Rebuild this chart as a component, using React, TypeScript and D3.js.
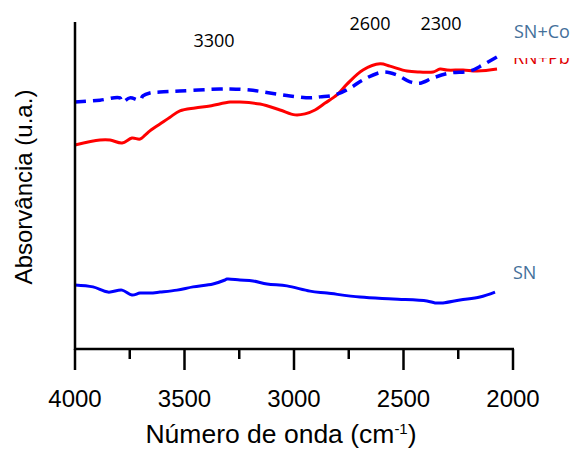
import React from 'react';
import * as d3 from 'd3';

// wavenumber (cm-1) and absorbance (u.a.)
const snCoWave = [4000, 3886, 3795, 3785, 3749, 3703, 3690, 3658, 3612, 3521, 3338, 3292, 3201, 3110, 3018, 2927, 2881, 2813, 2744, 2685, 2594, 2530, 2470, 2425, 2365, 2288, 2196, 2137, 2073];
const snCoAbs = [75.5, 76.1, 76.8, 75.5, 76.8, 76.1, 77.4, 78.3, 78.6, 78.9, 79.5, 79.5, 79.2, 78.3, 77.4, 76.8, 77.1, 77.7, 79.8, 82.3, 84.7, 83.8, 81.7, 81.3, 82.9, 84.4, 85.0, 86.9, 89.3];

const rnPbWave = [4000, 3886, 3840, 3785, 3740, 3703, 3680, 3658, 3612, 3566, 3521, 3452, 3384, 3292, 3247, 3155, 3064, 2995, 2950, 2904, 2858, 2804, 2758, 2685, 2607, 2562, 2484, 2425, 2365, 2333, 2301, 2228, 2164, 2073];
const rnPbAbs = [62.4, 63.9, 63.9, 63.0, 64.5, 64.2, 65.4, 66.7, 68.8, 70.9, 72.8, 73.7, 74.3, 75.5, 75.5, 74.9, 73.1, 71.6, 71.9, 73.1, 75.2, 77.7, 81.0, 85.3, 87.2, 86.5, 85.0, 84.7, 84.7, 85.6, 85.3, 85.3, 85.0, 85.6];

const snWave = [4000, 3918, 3849, 3785, 3740, 3703, 3658, 3612, 3534, 3461, 3370, 3315, 3306, 3247, 3187, 3123, 3032, 2927, 2849, 2699, 2548, 2393, 2356, 2320, 2242, 2151, 2082];
const snAbs = [19.6, 19.0, 17.4, 18.0, 16.5, 17.1, 17.1, 17.4, 18.0, 19.0, 19.9, 21.1, 21.4, 21.1, 20.8, 19.9, 19.3, 17.7, 17.1, 15.9, 15.3, 14.7, 14.1, 14.1, 15.0, 15.9, 17.4];

const majorTicks = [4000, 3500, 3000, 2500, 2000];
const minorTicks = [3750, 3250, 2750, 2250];

const peakLabels = ['3300', '2600', '2300'];
const seriesNames = ['SN+Co', 'RN+Pb', 'SN'];

const W = 573;
const H = 449;

export default function App() {
  const x = d3.scaleLinear().domain([4000, 2000]).range([75, 513]);
  const y = d3.scaleLinear().domain([0, 100]).range([349, 22]);

  const line = (ws: number[], as: number[]) =>
    d3.line<number>()
      .x((d) => x(d))
      .y((d, i) => y(as[i]))
      .curve(d3.curveCatmullRom.alpha(0.5))(ws) || '';

  const axisFont = 'Liberation Sans, Arial, sans-serif';
  const labelFont = 'Open Sans, Noto Sans, sans-serif';
  const nameColor = '#44709a';

  return (
    <svg width={W} height={H} style={{ position: 'absolute', left: 0, top: 0, background: '#fff' }}>
      <defs>
        <clipPath id="rnclip">
          <rect x={500} y={58} width={80} height={20} />
        </clipPath>
      </defs>

      <path d={line(snWave, snAbs)} fill="none" stroke="#0000ff" strokeWidth={3} />
      <path d={line(rnPbWave, rnPbAbs)} fill="none" stroke="#ff0000" strokeWidth={3} />
      <path d={line(snCoWave, snCoAbs)} fill="none" stroke="#0000ff" strokeWidth={3.5} strokeDasharray="11 7" />

      {/* axes */}
      <line x1={x(4000)} x2={x(4000)} y1={22} y2={y(0) + 1} stroke="#000" strokeWidth={2.5} />
      <line x1={x(4000)} x2={x(2000) + 1} y1={y(0)} y2={y(0)} stroke="#000" strokeWidth={2.5} />
      {majorTicks.map((t) => (
        <g key={t}>
          <line x1={x(t)} x2={x(t)} y1={y(0)} y2={y(0) + 21} stroke="#000" strokeWidth={2.5} />
          <text x={x(t)} y={407} textAnchor="middle" fontFamily={axisFont} fontSize={24}>{t}</text>
        </g>
      ))}
      {minorTicks.map((t) => (
        <line key={t} x1={x(t)} x2={x(t)} y1={y(0)} y2={y(0) + 10} stroke="#000" strokeWidth={2.5} />
      ))}

      <text x={281} y={443} textAnchor="middle" fontFamily={axisFont} fontSize={26.5}>
        Número de onda (cm<tspan dy={-9} fontSize={15}>-1</tspan><tspan dy={9}>)</tspan>
      </text>
      <text transform="translate(32,187) rotate(-90)" textAnchor="middle" fontFamily={axisFont} fontSize={24}>
        Absorvância (u.a.)
      </text>

      {/* peak annotations */}
      <text x={214} y={47} textAnchor="middle" fontFamily={labelFont} fontSize={18}>{peakLabels[0]}</text>
      <text x={370} y={30} textAnchor="middle" fontFamily={labelFont} fontSize={18}>{peakLabels[1]}</text>
      <text x={441} y={30} textAnchor="middle" fontFamily={labelFont} fontSize={18}>{peakLabels[2]}</text>

      {/* series names */}
      <text x={514} y={38} fontFamily={labelFont} fontSize={18} fill={nameColor}>{seriesNames[0]}</text>
      <text x={513} y={64} fontFamily={labelFont} fontSize={18} fill="#e00000" clipPath="url(#rnclip)">{seriesNames[1]}</text>
      <text x={513} y={279} fontFamily={labelFont} fontSize={18} fill={nameColor}>{seriesNames[2]}</text>
    </svg>
  );
}
